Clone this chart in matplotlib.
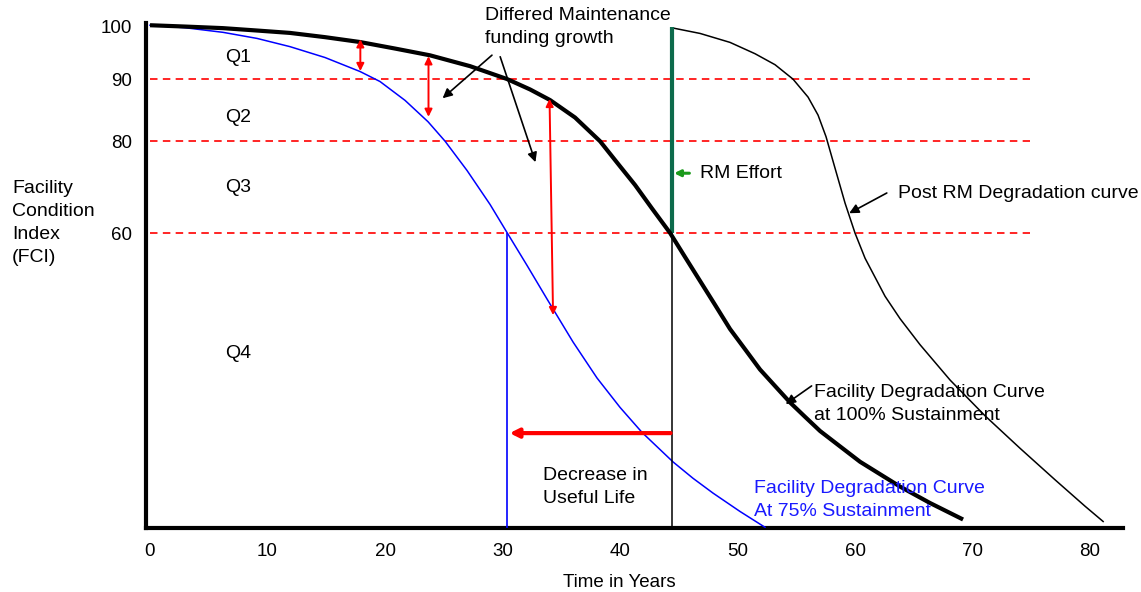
import numpy as np
import matplotlib
matplotlib.use("Agg")
import matplotlib.pyplot as plt

plt.rcParams['font.family'] = ['Liberation Sans', 'DejaVu Sans']

# ---------------- data (years, FCI) ----------------
sust100_x = [0, 2.98, 6.21, 9.11, 11.91, 14.89, 17.87, 20.85, 23.83, 27.23, 30.38, 32.34, 34.04,
             36.17, 38.30, 39.83, 41.28, 42.72, 44.26, 45.53, 46.81, 48.09, 49.36, 50.64, 51.91,
             53.19, 54.47, 55.74, 57.02, 58.72, 60.43, 62.13, 63.83, 66.38, 69.19]
sust100_y = [100.15, 99.9, 99.6, 99.15, 98.7, 97.9, 96.98, 95.75, 94.47, 92.43, 90.0, 88.32, 86.61,
             83.79, 79.95, 75.04, 70.43, 65.33, 60.0, 55.12, 50.24, 45.36, 40.47, 36.35, 32.24,
             28.88, 25.53, 22.62, 19.73, 16.60, 13.46, 10.94, 8.42, 5.08, 1.73]

sust75_x = [0, 2.98, 6.21, 9.11, 11.91, 14.89, 17.87, 19.57, 21.70, 23.66, 25.11, 26.98, 28.94,
            30.38, 32.09, 33.79, 36.00, 38.04, 40.00, 41.87, 44.51, 46.21, 47.91, 50.21, 52.34]
sust75_y = [100.15, 99.68, 98.81, 97.66, 96.11, 94.06, 91.42, 89.60, 86.56, 83.11, 79.96, 73.59,
            66.20, 60.11, 53.39, 46.56, 37.83, 30.51, 24.53, 19.44, 13.44, 10.11, 7.10, 3.36, 0.14]

post_rm_x = [44.51, 46.81, 49.36, 51.49, 53.19, 54.72, 56.00, 56.85, 57.53, 58.21, 59.15, 60.00,
             60.85, 62.55, 63.83, 65.53, 68.09, 71.06, 74.04, 77.02, 79.57, 81.11]
post_rm_y = [99.62, 98.60, 96.91, 94.77, 92.70, 89.98, 87.08, 84.18, 80.69, 74.85, 66.48, 59.96,
             54.87, 47.14, 42.57, 37.28, 30.08, 22.82, 16.21, 9.80, 4.43, 1.32]

quartile_levels = [90, 80, 60]
rm_year = 44.4
end_life_75 = 30.4
fci_threshold = 60
fci_top = 99.8

gap_arrows = [  # (x_top, y_top, x_bottom, y_bottom)
    (17.9, 97.5, 17.9, 91.5),
    (23.7, 94.3, 23.7, 83.9),
    (34.0, 86.8, 34.3, 43.3),
]
life_loss_fci = 19.3

x_ticks = [0, 10, 20, 30, 40, 50, 60, 70, 80]
y_ticks = [60, 80, 90, 100]

# ---------------- figure ----------------
W, H = 1141, 592
fig = plt.figure(figsize=(W / 100, H / 100), dpi=100)
ax = fig.add_axes([146 / W, 1 - 528 / H, 977 / W, 505 / H])

# schematic (non-linear) FCI axis
FCI_K = [-50, 0, 60, 80, 90, 100, 150]
POS_K = [-246, 0, 295, 387, 449, 502, 767]
fwd = lambda v: np.interp(v, FCI_K, POS_K)
inv = lambda v: np.interp(v, POS_K, FCI_K)
ax.set_yscale('function', functions=(fwd, inv))

ax.set_xlim(-0.34, 82.8)
ax.set_ylim(0, 100.57)

# dashed quartile lines
ax.hlines(quartile_levels, 0, 74.9, colors='#ff0000', linestyles=(0, (4.5, 3.2)), lw=1.2, zorder=1)

# curves
ax.plot(sust75_x, sust75_y, color='#0000ff', lw=1.1, zorder=3)
ax.plot(sust100_x, sust100_y, color='black', lw=3.0, zorder=4, solid_capstyle='butt')
ax.plot(post_rm_x, post_rm_y, color='black', lw=1.1, zorder=3)

# verticals
ax.vlines(end_life_75, 0, fci_threshold, colors='#0000ff', lw=1.2, zorder=3)
ax.vlines(rm_year, 0, fci_threshold, colors='black', lw=1.1, zorder=3)
ax.vlines(rm_year, fci_threshold, fci_top, colors='#0d6b4c', lw=3.0, zorder=3)

# red gap arrows
for (x1, y1, x2, y2) in gap_arrows:
    ax.annotate('', xy=(x2, y2), xytext=(x1, y1),
                arrowprops=dict(arrowstyle='<|-|>', color='#ff0000', lw=1.4,
                                mutation_scale=11, shrinkA=0, shrinkB=0), zorder=5)
ax.annotate('', xy=(end_life_75 + 0.2, life_loss_fci), xytext=(rm_year - 0.1, life_loss_fci),
            arrowprops=dict(arrowstyle='-|>', color='#ff0000', lw=3.0,
                            mutation_scale=13, shrinkA=0, shrinkB=0), zorder=5)

# black annotation arrows
black_arrow = dict(arrowstyle='-|>', color='black', lw=1.2, mutation_scale=14, shrinkA=0, shrinkB=0)
ax.annotate('', xy=(24.9, 86.9), xytext=(29.1, 94.5), arrowprops=black_arrow)
ax.annotate('', xy=(32.8, 75.4), xytext=(29.8, 94.2), arrowprops=black_arrow)
ax.annotate('', xy=(59.5, 64.3), xytext=(62.7, 68.7), arrowprops=black_arrow)
ax.annotate('', xy=(54.1, 25.2), xytext=(56.3, 28.9), arrowprops=black_arrow)
ax.annotate('', xy=(44.6, 73.0), xytext=(45.9, 73.0),
            arrowprops=dict(arrowstyle='-|>', color='#1a9a1a', lw=2.2, mutation_scale=9,
                            shrinkA=0, shrinkB=0))

# axes styling
for s in ['top', 'right']:
    ax.spines[s].set_visible(False)
for s in ['left', 'bottom']:
    ax.spines[s].set_linewidth(3.0)
ax.set_xticks(x_ticks)
ax.set_yticks(y_ticks)
ax.set_xticklabels([str(v) for v in x_ticks])
ax.set_yticklabels([str(v) for v in y_ticks])
ax.tick_params(axis='both', length=0, labelsize=13.5)
ax.tick_params(axis='x', pad=11)
ax.tick_params(axis='y', pad=10)
ax.set_xlabel('Time in Years', fontsize=13.5, labelpad=10, x=(619 - 146) / 977)


def ptext(px, py, s, **kw):
    kw.setdefault('fontsize', 14)
    kw.setdefault('va', 'center')
    kw.setdefault('ha', 'left')
    kw.setdefault('linespacing', 1.4)
    fig.text(px / W, 1 - py / H, s, **kw)


ptext(12, 223, 'Facility\nCondition\nIndex\n(FCI)', linespacing=1.45)
ptext(225, 58, 'Q1')
ptext(225, 117, 'Q2')
ptext(225, 187, 'Q3')
ptext(225, 353, 'Q4')
ptext(485, 27, 'Differed Maintenance\nfunding growth')
ptext(700, 174, 'RM Effort')
ptext(898, 194, 'Post RM Degradation curve')
ptext(814, 404, 'Facility Degradation Curve\nat 100% Sustainment')
ptext(543, 487, 'Decrease in\nUseful Life')
ptext(754, 500, 'Facility Degradation Curve\nAt 75% Sustainment', color='#1a1aff')

fig.savefig('out.png', dpi=100)
